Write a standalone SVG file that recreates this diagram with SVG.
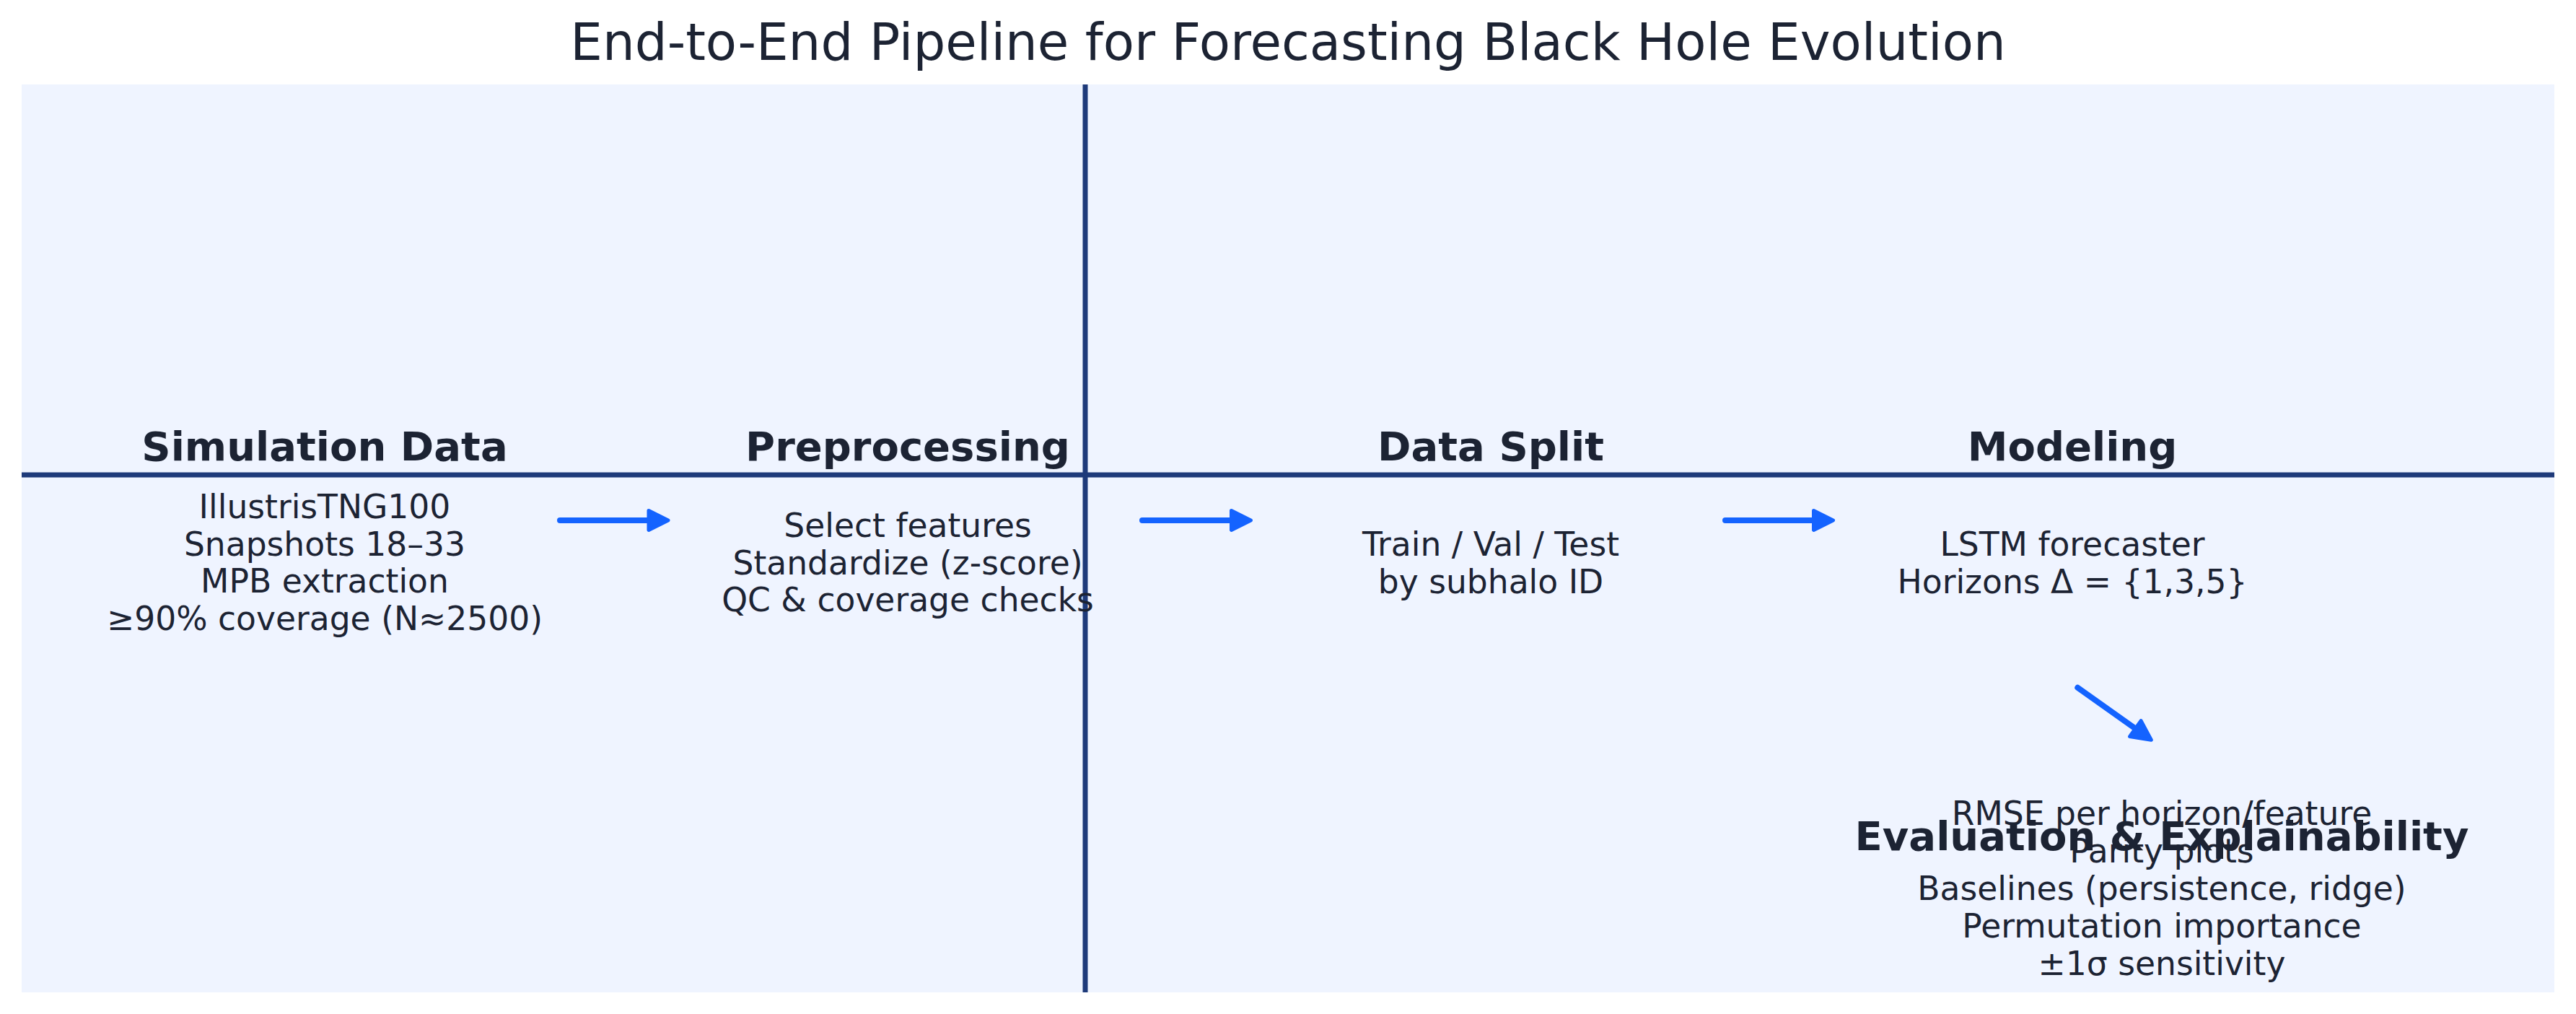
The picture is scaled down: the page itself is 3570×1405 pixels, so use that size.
<svg xmlns="http://www.w3.org/2000/svg" width="3570" height="1405" viewBox="0 0 3570 1405">
  <style>
    .title { font-family: "DejaVu Sans", "Liberation Sans", sans-serif; font-size: 70.7px; fill: #1c2333; text-anchor: middle; }
    .head { font-family: "DejaVu Sans", "Liberation Sans", sans-serif; font-size: 56px; font-weight: bold; fill: #1c2333; text-anchor: middle; }
    .body { font-family: "DejaVu Sans", "Liberation Sans", sans-serif; font-size: 45.6px; fill: #1c2333; text-anchor: middle; }
    .rule { stroke: #1e3a7a; stroke-width: 7; fill: none; }
    .conn { stroke: #1463ff; stroke-width: 8; stroke-linecap: round; fill: none; }
  </style>
  <defs>
    <marker id="head" markerUnits="userSpaceOnUse" orient="auto" refX="0" refY="0" markerWidth="40" markerHeight="40" viewBox="-5 -20 40 40" overflow="visible">
      <path d="M0,-13.5 L27,0 L0,13.5 Z" fill="#1463ff" stroke="#1463ff" stroke-width="5" stroke-linejoin="round"/>
    </marker>
  </defs>
  <rect x="0" y="0" width="3570" height="1405" fill="#ffffff"/>
  <text class="title" x="1785" y="83">End-to-End Pipeline for Forecasting Black Hole Evolution</text>
  <g id="frame">
    <rect x="30" y="117" width="3510" height="1258" fill="#eff4ff"/>
    <line class="rule" x1="30" y1="658" x2="3540" y2="658"/>
    <line class="rule" x1="1504" y1="117" x2="1504" y2="1375"/>
  </g>
  <g id="connectors">
    <line class="conn" x1="776" y1="721" x2="899" y2="721" marker-end="url(#head)"/>
    <line class="conn" x1="1583" y1="721" x2="1706.5" y2="721" marker-end="url(#head)"/>
    <line class="conn" x1="2391" y1="721" x2="2513.5" y2="721" marker-end="url(#head)"/>
    <line class="conn" x1="2879.3" y1="952.7" x2="2959.3" y2="1009.6" marker-end="url(#head)"/>
  </g>
  <g id="node-simulation">
    <text class="head" x="450" y="638">Simulation Data</text>
    <text class="body" x="450" y="718">IllustrisTNG100</text>
    <text class="body" x="450" y="769.5">Snapshots 18–33</text>
    <text class="body" x="450" y="821">MPB extraction</text>
    <text class="body" x="450" y="872.5">≥90% coverage (N≈2500)</text>
  </g>
  <g id="node-preprocessing">
    <text class="head" x="1258" y="638">Preprocessing</text>
    <text class="body" x="1258" y="744">Select features</text>
    <text class="body" x="1258" y="795.5">Standardize (z-score)</text>
    <text class="body" x="1258" y="847">QC &amp; coverage checks</text>
  </g>
  <g id="node-split">
    <text class="head" x="2066" y="638">Data Split</text>
    <text class="body" x="2066" y="770">Train / Val / Test</text>
    <text class="body" x="2066" y="821.5">by subhalo ID</text>
  </g>
  <g id="node-modeling">
    <text class="head" x="2872" y="638">Modeling</text>
    <text class="body" x="2872" y="770">LSTM forecaster</text>
    <text class="body" x="2872" y="821.5">Horizons Δ = {1,3,5}</text>
  </g>
  <g id="node-evaluation">
    <text class="body" x="2996" y="1143">RMSE per horizon/feature</text>
    <text class="body" x="2996" y="1195">Parity plots</text>
    <text class="body" x="2996" y="1247">Baselines (persistence, ridge)</text>
    <text class="body" x="2996" y="1299">Permutation importance</text>
    <text class="body" x="2996" y="1351">±1σ sensitivity</text>
    <text class="head" x="2996" y="1178">Evaluation &amp; Explainability</text>
  </g>
</svg>
